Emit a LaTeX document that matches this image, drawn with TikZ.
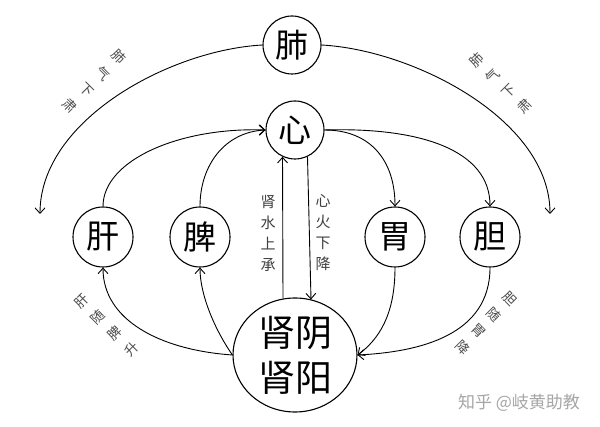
\documentclass[tikz,border=0pt]{standalone}
\usepackage{fontspec}
\newfontfamily\cjk{Noto Sans CJK SC}
\usetikzlibrary{shapes.geometric,arrows.meta,calc}
\begin{document}
\begin{tikzpicture}[x=1pt,y=-1pt,
  organ/.style={draw,circle,line width=1.1pt,minimum size=58pt,inner sep=0pt,font=\cjk\fontsize{33}{33}\selectfont},
  lnk/.style={line width=0.9pt,-{Straight Barb[length=5.5pt,width=10pt]}},
  lbl/.style={font=\cjk\fontsize{13.5}{13.5}\selectfont,text=black!70,inner sep=0pt,text height=10pt,text depth=1.5pt},
  vlbl/.style={font=\cjk\fontsize{15}{21}\selectfont,text=black!75,inner sep=0pt,align=center}]
\useasboundingbox (0,0) rectangle (600,427);
\fill[white] (0,0) rectangle (600,427);
% organs
\node[organ] (fei) at (292,45) {肺};
\node[organ] (xin) at (295,130) {心};
\node[organ,minimum size=60pt] (gan) at (103,237) {肝};
\node[organ,minimum size=60pt] (pi) at (200,237) {脾};
\node[organ,minimum size=60pt] (wei) at (395,237) {胃};
\node[organ,minimum size=60pt] (dan) at (490,237) {胆};
\node[draw,ellipse,line width=1.1pt,minimum width=124pt,minimum height=114pt,inner sep=0pt,align=center,font=\cjk\fontsize{37}{45}\selectfont] (shen) at (295,355) {肾阴\\肾阳};
% lung descending arcs
\coordinate (lend) at (40,214);
\coordinate (rend) at (550,214);
\draw[lnk] (fei.west) .. controls (170,50) and (40,120) .. (lend);
\draw[lnk] (fei.east) .. controls (414,50) and (550,120) .. (rend);
% liver / spleen up to heart
\draw[lnk] (gan.north) .. controls (103,160) and (180,127) .. (xin.west);
\draw[lnk] (pi.north) .. controls (200,165) and (225,132) .. (xin.west);
% heart down to stomach / gallbladder
\draw[lnk] (xin.east) .. controls (370,130) and (395,160) .. (wei.north);
\draw[lnk] (xin.east) .. controls (420,127) and (490,150) .. (dan.north);
% kidney <-> heart
\draw[lnk] ($(shen.north)+(-12,1)$) -- (xin.-115);
\draw[lnk] (xin.-65) -- ($(shen.north)+(16,2)$);
% kidney up to liver / spleen
\draw[lnk] (shen.west) .. controls (160,350) and (103,320) .. (gan.south);
\draw[lnk] (shen.west) .. controls (215,330) and (200,295) .. (pi.south);
% stomach / gallbladder down to kidney
\draw[lnk] (wei.south) .. controls (395,305) and (385,335) .. (shen.east);
\draw[lnk] (dan.south) .. controls (490,335) and (420,352) .. (shen.east);
% labels
\node[vlbl] (l1) at (268,233) {肾\\水\\上\\承};
\node[vlbl] (l2) at (323,233) {心\\火\\下\\降};
\node[lbl,rotate=-45] (a1) at (118,57) {肺};
\node[lbl,rotate=-45] (a2) at (102,74) {气};
\node[lbl,rotate=-45] (a3) at (86,90) {下};
\node[lbl,rotate=-45] (a4) at (69,106) {肃};
\node[lbl,rotate=45] (b1) at (477,61) {肺};
\node[lbl,rotate=45] (b2) at (493,77) {气};
\node[lbl,rotate=45] (b3) at (509,92) {下};
\node[lbl,rotate=45] (b4) at (525,107) {肃};
\node[lbl,rotate=45] (c1) at (82,302) {肝};
\node[lbl,rotate=45] (c2) at (98,318) {随};
\node[lbl,rotate=45] (c3) at (115,334) {脾};
\node[lbl,rotate=45] (c4) at (132,350) {升};
\node[lbl,rotate=-45] (d1) at (509,299) {胆};
\node[lbl,rotate=-45] (d2) at (493,315) {随};
\node[lbl,rotate=-45] (d3) at (478,331) {胃};
\node[lbl,rotate=-45] (d4) at (462,348) {降};
\node[font=\cjk\fontsize{17}{17}\selectfont,text=black!35,inner sep=0pt] (wm) at (519,403) {知乎 @岐黄助教};
\end{tikzpicture}
\end{document}
